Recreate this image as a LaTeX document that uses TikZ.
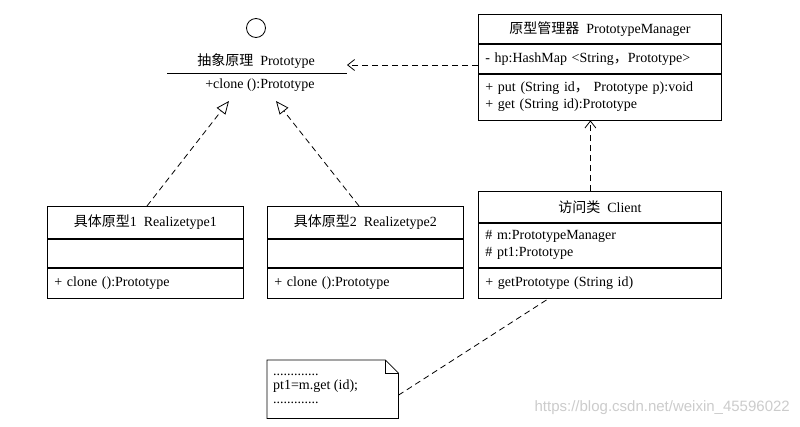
\documentclass[tikz,border=0pt]{standalone}
\usepackage{fontspec}
\setmainfont{Liberation Serif}
\newfontfamily\cjk{Noto Sans CJK SC}
\newfontfamily\wmfont{Liberation Sans}
\usetikzlibrary{arrows.meta,calc}
\begin{document}
\begin{tikzpicture}[x=1pt,y=-1pt,
  every node/.style={font=\fontsize{14}{17}\selectfont},
  cbox/.style={draw,line width=0.8pt,inner xsep=7pt,inner ysep=0pt,anchor=north west},
  lbox/.style={cbox,align=left},
  txt/.style={inner sep=0pt},
  dline/.style={line width=0.8pt,dash pattern=on 6pt off 4pt},
  depend/.style={dline,-{Straight Barb[length=7pt,width=11pt,line width=0.8pt]}},
  realize/.style={dline,-{Triangle[open,length=13pt,width=11pt,line width=0.8pt]}}]
\useasboundingbox (0,0) rectangle (800,426);
\fill[white] (0,0) rectangle (800,426);

% Abstract prototype
\node[draw,circle,line width=0.8pt,minimum size=19pt,inner sep=0pt] (iface) at (256,28) {};
\node[txt] (protoT) at (256,61) {{\cjk 抽象原理}\ \ Prototype};
\coordinate (lnL) at (167,73);
\coordinate (lnR) at (347,73);
\draw[line width=0.8pt] (lnL) -- (lnR);
\node[txt] (protoM) at (260,85) {+clone ():Prototype};
\coordinate (protoE) at (347,65);
\coordinate (protoA) at (229,101);
\coordinate (protoB) at (276,101);

% PrototypeManager
\node[cbox,minimum width=243pt,minimum height=29pt] (pmT) at (478,14) {{\cjk 原型管理器}\ \ PrototypeManager};
\node[lbox,text width=229pt,minimum height=29pt] (pmA) at (pmT.south west) {-\ hp:HashMap <String{\cjk ，}Prototype>};
\node[lbox,text width=229pt,minimum height=46pt] (pmM) at (pmA.south west) {+ put (String id{\cjk ，} Prototype p):void\\+ get (String id):Prototype};

% Realizetype1
\node[cbox,minimum width=196pt,minimum height=32pt] (r1T) at (47,206) {{\cjk 具体原型}1\ \ Realizetype1};
\node[cbox,minimum width=196pt,minimum height=28pt] (r1A) at (r1T.south west) {};
\node[lbox,text width=182pt,minimum height=30pt] (r1M) at (r1A.south west) {+ clone ():Prototype};

% Realizetype2
\node[cbox,minimum width=196pt,minimum height=32pt] (r2T) at (267,206) {{\cjk 具体原型}2\ \ Realizetype2};
\node[cbox,minimum width=196pt,minimum height=28pt] (r2A) at (r2T.south west) {};
\node[lbox,text width=182pt,minimum height=30pt] (r2M) at (r2A.south west) {+ clone ():Prototype};

% Client
\node[cbox,minimum width=243pt,minimum height=31pt] (clT) at (478,191) {{\cjk 访问类}\ \ Client};
\node[lbox,text width=229pt,minimum height=44pt] (clA) at (clT.south west) {\#\ m:PrototypeManager\\\#\ pt1:Prototype};
\node[lbox,text width=229pt,minimum height=30pt] (clM) at (clA.south west) {+ getPrototype (String id)};

% Note
\node[txt,minimum width=131pt,minimum height=58pt,anchor=north west] (note) at (267,360) {};
\draw[line width=0.8pt] (note.north west) -- ([xshift=-13pt]note.north east) -- ([yshift=-13pt]note.north east) -- (note.south east) -- (note.south west) -- cycle;
\draw[line width=0.6pt] ([xshift=-13pt]note.north east) -- ([xshift=-13pt,yshift=-13pt]note.north east) -- ([yshift=-13pt]note.north east);
\node[txt,anchor=north west,align=left,font=\fontsize{14}{14}\selectfont] (noteT) at (273,374) {.............\\pt1=m.get (id);\\.............};

% Connectors
\draw[depend] (pmT.west |- 0,65) -- (protoE);
\draw[realize] ([xshift=100pt]r1T.north west) -- (protoA);
\draw[realize] ([xshift=92pt]r2T.north west) -- (protoB);
\draw[depend] ([xshift=-9.5pt]clT.north) -- ([xshift=-9.5pt]pmM.south);
\draw[dline] ([yshift=-6pt]note.east) -- ([xshift=-51pt]clM.south);

% watermark
\node[txt,anchor=east,text=black!20,font=\wmfont\fontsize{15}{15}\selectfont] (wm) at (790,408) {https://blog.csdn.net/weixin\_45596022};
\end{tikzpicture}
\end{document}
